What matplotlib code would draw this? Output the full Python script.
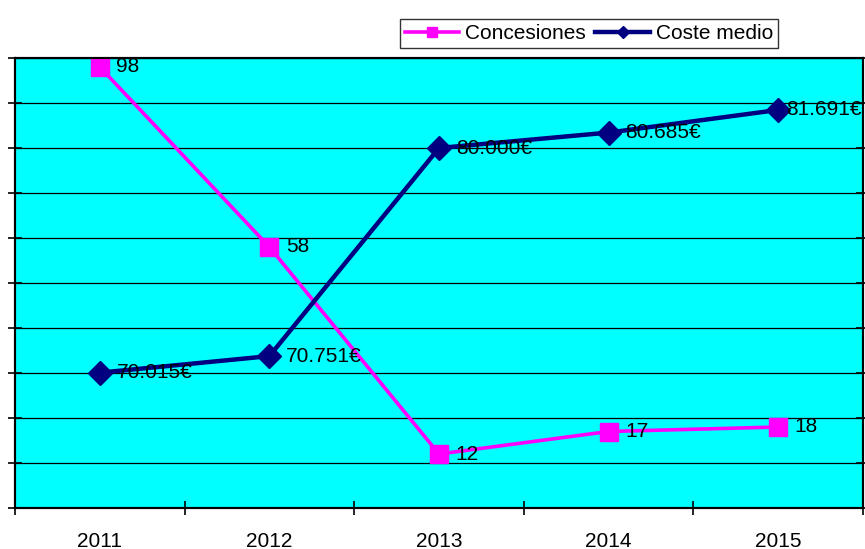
import matplotlib
matplotlib.use('Agg')
import matplotlib.pyplot as plt
from matplotlib.ticker import MultipleLocator

# ── Data ─────────────────────────────────────────────────────────
years = ['2011', '2012', '2013', '2014', '2015']
concesiones = [98, 58, 12, 17, 18]
coste_medio = [70015, 70751, 80000, 80685, 81691]
coste_labels = ['70.015€', '70.751€', '80.000€', '80.685€', '81.691€']

PINK = '#FF00FF'
NAVY = '#000080'
FS = 15

plt.rcParams['font.family'] = ['Liberation Sans', 'DejaVu Sans']

fig = plt.figure(figsize=(8.65, 5.49), dpi=100)
ax = fig.add_axes([15 / 865, 41 / 549, 848 / 865, 450 / 549])
ax.set_facecolor('#00FFFF')

x = list(range(1, len(years) + 1))
ax.set_xlim(0.5, len(years) + 0.5)
ax.set_ylim(0, 100)
ax.yaxis.set_major_locator(MultipleLocator(10))
ax.grid(axis='y', color='black', lw=0.9)
ax.set_axisbelow(True)

ax.plot(x, concesiones, color=PINK, lw=2.6, marker='s', ms=13,
        markeredgecolor=PINK, label='Concesiones', zorder=3)
for xi, v in zip(x, concesiones):
    ax.annotate(str(v), (xi, v), xytext=(12, 0), textcoords='offset points',
                va='center', ha='left', fontsize=FS)

ax2 = ax.twinx()
ax2.set_ylim(64000, 84000)
ax2.yaxis.set_major_locator(MultipleLocator(2000))
ax2.plot(x, coste_medio, color=NAVY, lw=3.2, marker='D', ms=12,
         markeredgecolor=NAVY, label='Coste medio', zorder=3)
for i, (xi, v, lab) in enumerate(zip(x, coste_medio, coste_labels)):
    # last label is pushed left so it (mostly) fits, like Excel does
    dx = 6 if i == len(x) - 1 else 12
    ax2.annotate(lab, (xi, v), xytext=(dx, 0), textcoords='offset points',
                 va='center', ha='left', fontsize=FS)

# ticks: categories between boundaries, crossing tick marks
ax.set_xticks([i + 0.5 for i in range(len(years) + 1)])
ax.set_xticklabels([])
ax.set_xticks(x, minor=True)
ax.set_xticklabels(years, minor=True, fontsize=FS)
ax.tick_params(axis='x', which='major', direction='inout', length=10, width=1.2)
ax.tick_params(axis='x', which='minor', length=0, pad=17)
ax.tick_params(axis='y', direction='inout', length=10, width=1.2, labelleft=False)
ax2.tick_params(axis='y', direction='inout', length=10, width=1.2, labelright=False)

for a in (ax, ax2):
    for s in a.spines.values():
        s.set_linewidth(1.5)
        s.set_color('black')

h1, l1 = ax.get_legend_handles_labels()
h2, l2 = ax2.get_legend_handles_labels()
leg = fig.legend(h1 + h2, l1 + l2, loc='center', ncol=2,
                 bbox_to_anchor=(589 / 865, 1 - 33.5 / 549), fontsize=FS,
                 frameon=True, fancybox=False, edgecolor='black',
                 handlelength=2.6, handletextpad=0.3, columnspacing=0.45,
                 markerscale=0.55, borderpad=0.25, borderaxespad=0)
leg.get_frame().set_linewidth(1.0)

fig.savefig('out.png', dpi=100)
